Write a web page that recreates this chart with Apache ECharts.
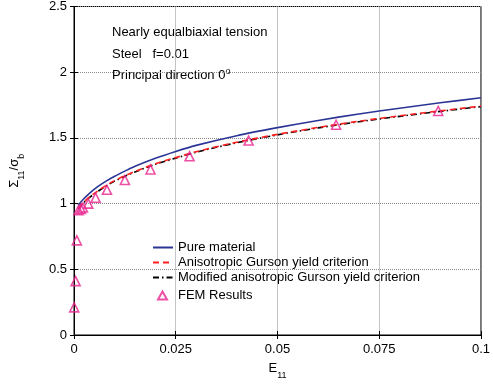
<!DOCTYPE html>
<html>
<head>
<meta charset="utf-8">
<script src="https://cdn.jsdelivr.net/npm/echarts@6/dist/echarts.min.js"></script>
<style>
html,body{margin:0;padding:0;background:#fff;}
#c{width:493px;height:385px;}
</style>
</head>
<body>
<div id="c"></div>
<script>
// ---- Data ----
const xTicks = [0, 0.025, 0.05, 0.075, 0.1];
const yTicks = [0, 0.5, 1, 1.5, 2, 2.5];

const pureE =   [0.001, 0.002, 0.004, 0.006, 0.008, 0.010, 0.0125, 0.015, 0.020, 0.025, 0.030, 0.040, 0.050, 0.060, 0.070, 0.080, 0.090, 0.100];
const pureS =   [0.987, 1.024, 1.084, 1.133, 1.173, 1.208, 1.247, 1.284, 1.345, 1.397, 1.443, 1.517, 1.578, 1.633, 1.682, 1.726, 1.767, 1.805];

const anisoE =  [0.001, 0.002, 0.004, 0.006, 0.008, 0.010, 0.0125, 0.015, 0.020, 0.025, 0.030, 0.040, 0.050, 0.060, 0.070, 0.080, 0.090, 0.100];
const anisoS =  [0.965, 1.000, 1.055, 1.100, 1.140, 1.175, 1.212, 1.245, 1.303, 1.350, 1.395, 1.467, 1.527, 1.580, 1.627, 1.668, 1.706, 1.742];

const modE =    [0.001, 0.002, 0.004, 0.006, 0.008, 0.010, 0.0125, 0.015, 0.020, 0.025, 0.030, 0.040, 0.050, 0.060, 0.070, 0.080, 0.090, 0.100];
const modS =    [0.960, 0.996, 1.051, 1.096, 1.136, 1.171, 1.208, 1.241, 1.299, 1.346, 1.391, 1.463, 1.523, 1.576, 1.623, 1.664, 1.702, 1.738];

const femE =    [0.00005, 0.0004, 0.0007, 0.0011, 0.0017, 0.0022, 0.0035, 0.0053, 0.0081, 0.0125, 0.0188, 0.0284, 0.0429, 0.0644, 0.0895];
const femS =    [0.21, 0.41, 0.72, 0.95, 0.96, 0.97, 1.00, 1.045, 1.105, 1.18, 1.26, 1.36, 1.48, 1.60, 1.705];

const seriesNames = ['Pure material', 'Anisotropic Gurson yield criterion', 'Modified anisotropic Gurson yield criterion', 'FEM Results'];
const notes = ['Nearly equalbiaxial tension', 'Steel   f=0.01', 'Principal direction 0'];

// ---- Chart ----
const zip = (a, b) => a.map((v, i) => [v, b[i]]);
const FONT = 'Liberation Sans, Arial, Helvetica, sans-serif';
const chart = echarts.init(document.getElementById('c'), null, {renderer: 'canvas'});
const fmt = v => String(+v.toFixed(3));

const gridLine = {show: true, lineStyle: {color: '#8a8a8a', type: 'dotted', width: 1}};

chart.setOption({
  backgroundColor: '#fff',
  animation: false,
  textStyle: {fontFamily: FONT},
  grid: {left: 72, right: 5, top: 6, bottom: 49, show: true, borderColor: '#000', borderWidth: 1, backgroundColor: 'transparent'},
  xAxis: [{
    type: 'value', min: xTicks[0], max: xTicks[xTicks.length - 1], interval: 0.025,
    axisLine: {show: true, onZero: false, lineStyle: {color: '#000'}},
    axisTick: {show: true, inside: true, length: 4, lineStyle: {color: '#000'}},
    axisLabel: {color: '#000', fontSize: 13, fontFamily: FONT, margin: 8, formatter: fmt},
    splitLine: gridLine,
    name: '{m|E}{s|11}', nameLocation: 'middle', nameGap: 22,
    nameTextStyle: {rich: {
      m: {fontSize: 13, color: '#000', fontFamily: FONT},
      s: {fontSize: 9, color: '#000', fontFamily: FONT, padding: [14, 0, 0, 0]}
    }}
  }, {
    type: 'value', position: 'top', min: xTicks[0], max: xTicks[xTicks.length - 1], interval: 0.025,
    axisLine: {show: true, lineStyle: {color: '#000'}},
    axisTick: {show: true, inside: true, length: 4, lineStyle: {color: '#000'}},
    axisLabel: {show: false}, splitLine: {show: false}
  }],
  yAxis: [{
    type: 'value', min: yTicks[0], max: yTicks[yTicks.length - 1], interval: 0.5,
    axisLine: {show: true, onZero: false, lineStyle: {color: '#000'}},
    axisTick: {show: true, inside: true, length: 4, lineStyle: {color: '#000'}},
    axisLabel: {color: '#000', fontSize: 13, fontFamily: FONT, margin: 7, formatter: fmt},
    splitLine: gridLine,
    name: '{m|Σ}{s|11}{m|/σ}{s|b}', nameLocation: 'middle', nameGap: 48, nameRotate: 90,
    nameTextStyle: {rich: {
      m: {fontSize: 13, color: '#000', fontFamily: FONT},
      s: {fontSize: 9, color: '#000', fontFamily: FONT, padding: [14, 0, 0, 0]}
    }}
  }, {
    type: 'value', position: 'right', min: yTicks[0], max: yTicks[yTicks.length - 1], interval: 0.5,
    axisLine: {show: true, lineStyle: {color: '#000'}},
    axisTick: {show: true, inside: true, length: 4, lineStyle: {color: '#000'}},
    axisLabel: {show: false}, splitLine: gridLine
  }],
  legend: [{
    orient: 'vertical', left: 147, top: 236, itemWidth: 20, itemHeight: 14, itemGap: 2,
    itemStyle: {opacity: 0},
    textStyle: {fontSize: 13, color: '#000', fontFamily: FONT},
    data: seriesNames.slice(0, 3)
  }, {
    orient: 'vertical', left: 152, top: 284, itemWidth: 9, itemHeight: 8,
    textStyle: {fontSize: 13, color: '#000', fontFamily: FONT, padding: [0, 0, 0, 6]},
    data: [seriesNames[3]]
  }],
  graphic: [
    {type: 'text', left: 112, top: 26, style: {text: notes[0], font: '13px ' + FONT, fill: '#000'}},
    {type: 'text', left: 112, top: 48, style: {text: notes[1], font: '13px ' + FONT, fill: '#000'}},
    {type: 'text', left: 112, top: 67, style: {
      text: '{m|' + notes[2] + '}{p|o}', fill: '#000',
      rich: {m: {fontSize: 13, fontFamily: FONT, fill: '#000'}, p: {fontSize: 9, fontFamily: FONT, fill: '#000', padding: [0, 0, 8, 0]}}
    }}
  ],
  series: [
    {name: seriesNames[0], type: 'line', data: zip(pureE, pureS), showSymbol: false, symbol: 'none', smooth: 0.3,
      lineStyle: {color: '#2b3596', width: 1.6}, itemStyle: {color: '#2b3596'}, z: 3},
    {name: seriesNames[1], type: 'line', data: zip(anisoE, anisoS), showSymbol: false, symbol: 'none', smooth: 0.3,
      lineStyle: {color: '#ff2020', width: 1.6, type: [6, 4]}, itemStyle: {color: '#ff2020'}, z: 4},
    {name: seriesNames[2], type: 'line', data: zip(modE, modS), showSymbol: false, symbol: 'none', smooth: 0.3,
      lineStyle: {color: '#000', width: 1.6, type: [6, 3, 1.5, 3]}, itemStyle: {color: '#000'}, z: 2},
    {name: seriesNames[3], type: 'scatter', data: zip(femE, femS), symbol: 'triangle', symbolSize: 9,
      itemStyle: {color: 'rgba(255,255,255,0)', borderColor: '#e8238f', borderWidth: 1.6}, z: 5}
  ]
});
</script>
</body>
</html>
